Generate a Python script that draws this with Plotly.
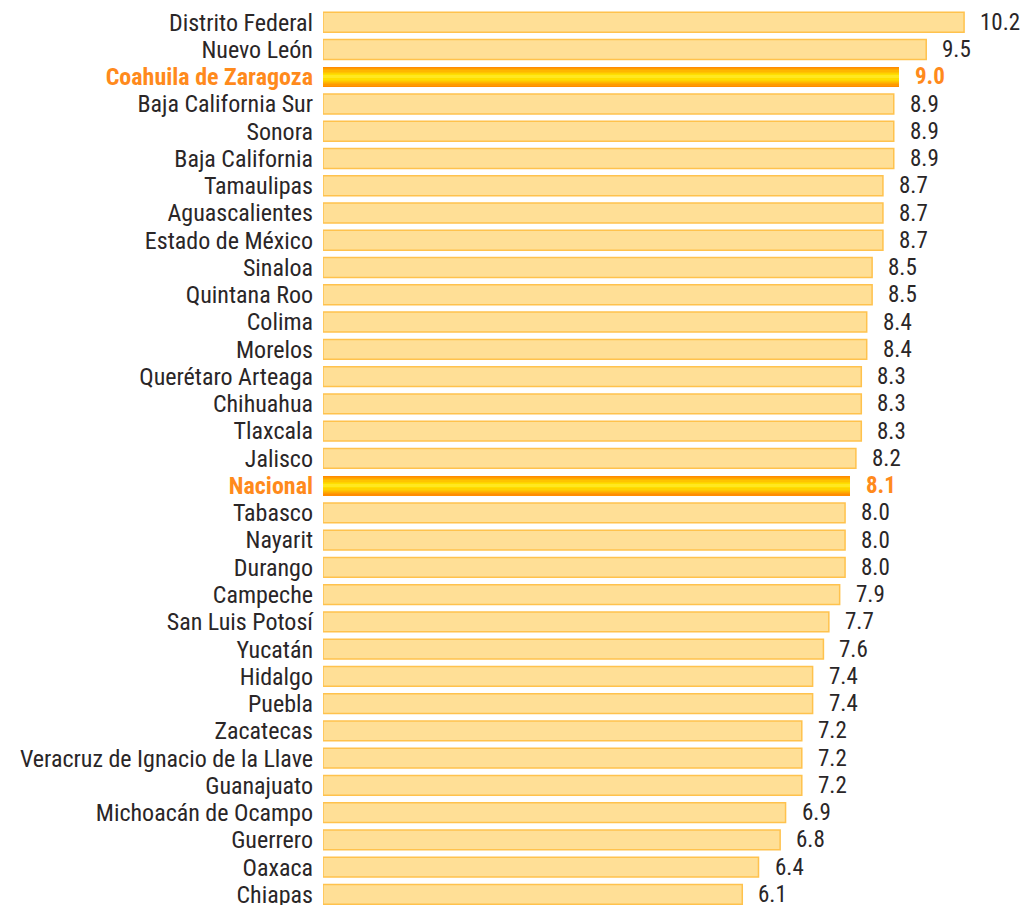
import plotly.graph_objects as go

states = [
    "Distrito Federal", "Nuevo León", "Coahuila de Zaragoza", "Baja California Sur",
    "Sonora", "Baja California", "Tamaulipas", "Aguascalientes", "Estado de México",
    "Sinaloa", "Quintana Roo", "Colima", "Morelos", "Querétaro Arteaga", "Chihuahua",
    "Tlaxcala", "Jalisco", "Nacional", "Tabasco", "Nayarit", "Durango", "Campeche",
    "San Luis Potosí", "Yucatán", "Hidalgo", "Puebla", "Zacatecas",
    "Veracruz de Ignacio de la Llave", "Guanajuato", "Michoacán de Ocampo",
    "Guerrero", "Oaxaca", "Chiapas",
]
values = [
    10.2, 9.5, 9.0, 8.9, 8.9, 8.9, 8.7, 8.7, 8.7, 8.5, 8.5, 8.4, 8.4, 8.3, 8.3,
    8.3, 8.2, 8.1, 8.0, 8.0, 8.0, 7.9, 7.7, 7.6, 7.4, 7.4, 7.2, 7.2, 7.2, 6.9,
    6.8, 6.4, 6.1,
]
highlighted = ["Coahuila de Zaragoza", "Nacional"]

# style constants
BASE = -1.65
FONT = "Liberation Sans Narrow, Roboto Condensed, DejaVu Sans Condensed, sans-serif"
TXT = "#2a2627"
HL_TXT = "#ff8a1c"
BAR_FILL = "#ffdf96"
BAR_LINE = "#ffc24d"
BAR_W = 0.73

rows = list(range(len(states)))
is_hl = [s in highlighted for s in states]

norm_y = [r for r, h in zip(rows, is_hl) if not h]
norm_x = [v for v, h in zip(values, is_hl) if not h]
hl_y = [r for r, h in zip(rows, is_hl) if h]
hl_x = [v for v, h in zip(values, is_hl) if h]

fig = go.Figure()
fig.add_trace(go.Bar(
    y=norm_y, x=[v - BASE for v in norm_x], base=BASE, orientation="h",
    width=BAR_W, marker=dict(color=BAR_FILL, line=dict(color=BAR_LINE, width=1.5)),
    hoverinfo="skip", showlegend=False,
))

# gradient imitation for highlighted bars: stacked layers of decreasing thickness
layers = [
    (1.00, "#ff8c00"),
    (0.88, "#ff9a00"),
    (0.76, "#ffa800"),
    (0.64, "#ffb600"),
    (0.52, "#ffc400"),
    (0.40, "#ffd200"),
    (0.28, "#ffde00"),
    (0.14, "#ffe820"),
]
for f, c in layers:
    fig.add_trace(go.Bar(
        y=hl_y, x=[v - BASE for v in hl_x], base=BASE, orientation="h",
        width=BAR_W * f, marker=dict(color=c, line=dict(width=0)),
        hoverinfo="skip", showlegend=False,
    ))

ticktext = []
for s, h in zip(states, is_hl):
    if h:
        ticktext.append(f"<b><span style='color:{HL_TXT}'>{s}</span></b>")
    else:
        ticktext.append(s)

annotations = []
for r, v, h in zip(rows, values, is_hl):
    annotations.append(dict(
        x=v, y=r, xref="x", yref="y", text=(f"<b>{v:.1f}</b>" if h else f"{v:.1f}"),
        showarrow=False, xanchor="left", yanchor="middle", xshift=14,
        font=dict(family=FONT, size=23, color=HL_TXT if h else TXT),
    ))

fig.update_layout(
    width=1026, height=905,
    margin=dict(l=323, r=0, t=0, b=0, autoexpand=False),
    paper_bgcolor="white", plot_bgcolor="white",
    barmode="overlay", bargap=0,
    font=dict(family=FONT, size=24, color=TXT),
    annotations=annotations,
    xaxis=dict(range=[BASE, BASE + 703 / 54.1], visible=False, fixedrange=True),
    yaxis=dict(
        range=[32.39, -0.818], tickmode="array", tickvals=rows, ticktext=ticktext,
        showgrid=False, zeroline=False, showline=False, ticks="",
        ticklabelstandoff=9, automargin=False, ticklabeloverflow="allow",
        tickfont=dict(family=FONT, size=24, color=TXT), fixedrange=True,
    ),
)

fig.write_html(
    "out.html",
    config={"displayModeBar": False, "staticPlot": True},
    post_script="document.body.style.margin='0';document.body.style.overflow='hidden';",
)
